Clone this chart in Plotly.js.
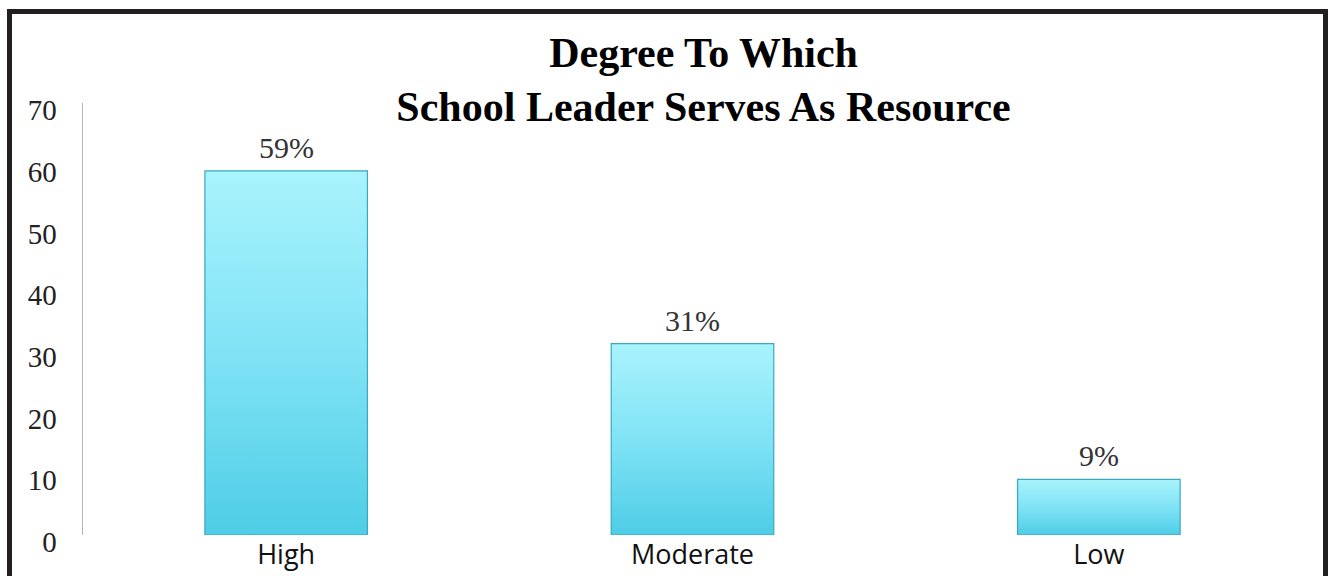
<!DOCTYPE html>
<html>
<head>
<meta charset="utf-8">
<script src="https://cdn.plot.ly/plotly-3.0.1.min.js"></script>
<style>
  html, body { margin: 0; padding: 0; background: #fff; overflow: hidden; }
  #chart { width: 1330px; height: 576px; }
  #frame {
    position: absolute; left: 7px; top: 9px; width: 1311px; height: 700px;
    border: 5px solid #231f20; pointer-events: none;
  }
</style>
</head>
<body>
<div id="chart"></div>
<div id="frame"></div>
<script>
// Survey results: share of respondents per rating level
const categories = ["High", "Moderate", "Low"];
const percentages = [59, 31, 9];
const yTickValues = [0, 10, 20, 30, 40, 50, 60, 70];

const titleText = "Degree To Which<br>School Leader Serves As Resource";

const serif = "'Liberation Serif', 'DejaVu Serif', serif";
const sans = "'Open Sans', 'Liberation Sans', sans-serif";

const trace = {
  type: "bar",
  x: categories,
  y: percentages,
  marker: { color: "#7de2f5", line: { color: "#3aa8be", width: 1.2 } },
  hoverinfo: "x+y"
};

// value labels above each bar, anchored to the bar's own value
const valueLabels = categories.map((c, i) => ({
  x: c, y: percentages[i], xref: "x", yref: "y",
  text: percentages[i] + "%", showarrow: false,
  yanchor: "bottom", yshift: 5,
  font: { family: serif, size: 30, color: "#333" }
}));

const layout = {
  width: 1330, height: 576,
  margin: { l: 83, r: 28, t: 103, b: 41 },
  paper_bgcolor: "#fff", plot_bgcolor: "#fff",
  bargap: 0.6,
  showlegend: false,
  title: {
    text: titleText,
    x: 0.529, xanchor: "center",
    y: 0.884, yref: "container", yanchor: "top",
    font: { family: serif, size: 42, color: "#000", weight: "bold" }
  },
  xaxis: {
    type: "category",
    showline: false, showgrid: false, zeroline: false,
    ticks: "", ticklabelstandoff: 1,
    tickfont: { family: sans, size: 27, color: "#111" }
  },
  yaxis: {
    range: [0, 70],
    tickvals: yTickValues,
    showline: true, linecolor: "#b5b5b5", linewidth: 1.5,
    showgrid: false, zeroline: false,
    ticks: "", ticklabelstandoff: 19, ticklabelshift: 7,
    tickfont: { family: serif, size: 29, color: "#222" }
  },
  annotations: valueLabels
};

Plotly.newPlot("chart", [trace], layout, { displayModeBar: false, staticPlot: true }).then(gd => {
  // vertical light-to-deep cyan gradient fill for the bars
  const svg = gd.querySelector(".main-svg");
  const ns = "http://www.w3.org/2000/svg";
  let defs = svg.querySelector("defs");
  if (!defs) { defs = document.createElementNS(ns, "defs"); svg.insertBefore(defs, svg.firstChild); }
  const grad = document.createElementNS(ns, "linearGradient");
  grad.setAttribute("id", "barFill");
  grad.setAttribute("x1", "0"); grad.setAttribute("y1", "0");
  grad.setAttribute("x2", "0"); grad.setAttribute("y2", "1");
  [["0", "#a9f3fc"], ["0.5", "#80e3f5"], ["1", "#4ecde6"]].forEach(([o, c]) => {
    const s = document.createElementNS(ns, "stop");
    s.setAttribute("offset", o); s.setAttribute("stop-color", c);
    grad.appendChild(s);
  });
  defs.appendChild(grad);
  gd.querySelectorAll(".barlayer .point path").forEach(p => {
    p.style.fill = "url(#barFill)";
  });
});
</script>
</body>
</html>
